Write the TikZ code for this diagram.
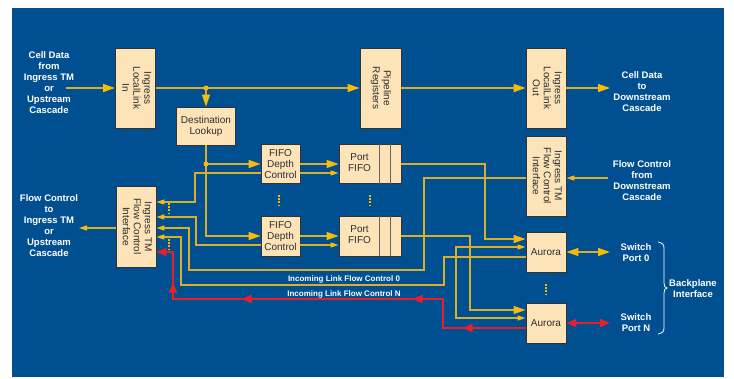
\documentclass[tikz,border=0pt]{standalone}
\usepackage{fontspec}
\setmainfont{Liberation Sans}
\usetikzlibrary{arrows.meta,decorations.markings,calc}
\definecolor{bgblue}{RGB}{0,80,145}
\definecolor{boxfill}{RGB}{253,227,184}
\definecolor{boxtext}{RGB}{45,45,45}
\definecolor{lgold}{RGB}{216,174,42}
\definecolor{ayel}{RGB}{250,186,10}
\definecolor{lred}{RGB}{232,30,40}
\newcommand{\rottxt}[1]{\rotatebox{-90}{\begin{tabular}{@{}c@{}}#1\end{tabular}}}
\tikzset{
  bigA/.tip={Triangle[length=12pt,width=8pt,color=ayel]},
  smA/.tip={Triangle[length=8pt,width=5pt,color=ayel]},
  redA/.tip={Triangle[length=10pt,width=8pt,color=lred]},
}
\begin{document}
\begin{tikzpicture}[x=1pt,y=-1pt,
  blk/.style={draw=black!80, line width=0.9pt, fill=boxfill, text=boxtext,
    font=\fontsize{10}{11}\selectfont, align=center, inner sep=0pt},
  lbl/.style={text=white, font=\bfseries\fontsize{9.5}{11}\selectfont, align=center, inner sep=0pt},
  sml/.style={text=white, font=\bfseries\fontsize{8}{9}\selectfont, inner sep=0pt},
  ln/.style={draw=lgold, line width=1.4pt},
  rl/.style={draw=lred, line width=2.4pt},
  vdots/.style={draw=ayel, line width=1.6pt, dash pattern=on 1.6pt off 1.6pt},
  sep/.style={draw=black!60, line width=0.9pt}]
\useasboundingbox (0,0) rectangle (734,378);
\fill[bgblue] (12,8) rectangle (724,377);

% blocks
\node[blk, minimum width=40, minimum height=80] (inL) at (135.5,88) {\rottxt{Ingress\\LocalLink\\In}};
\node[blk, minimum width=59, minimum height=38] (dest) at (206,126) {Destination\\Lookup};
\node[blk, minimum width=41, minimum height=80] (pipe) at (380.5,88) {\rottxt{Pipeline\\Registers}};
\node[blk, minimum width=40, minimum height=80] (outL) at (546,88) {\rottxt{Ingress\\LocalLink\\Out}};
\node[blk, minimum width=40, minimum height=80] (fcR) at (546,176) {\rottxt{Ingress TM\\Flow Control\\Interface}};
\node[blk, minimum width=40, minimum height=81] (fcL) at (136,226.5) {\rottxt{Ingress TM\\Flow Control\\Interface}};
\node[blk, minimum width=39, minimum height=39] (fdc1) at (280.5,164) {FIFO\\Depth\\Control};
\node[blk, minimum width=39, minimum height=40] (fdc2) at (280.5,236) {FIFO\\Depth\\Control};
\node[blk, minimum width=62, minimum height=39] (pf1) at (370,164) {\begin{tabular}{@{}c@{}}Port\\FIFO\end{tabular}\hspace*{21pt}};
\node[blk, minimum width=62, minimum height=40] (pf2) at (370,236) {\begin{tabular}{@{}c@{}}Port\\FIFO\end{tabular}\hspace*{21pt}};
\node[blk, minimum width=40, minimum height=40] (au1) at (546,252) {Aurora};
\node[blk, minimum width=40, minimum height=40] (au2) at (546,323) {Aurora};
\foreach \p in {pf1,pf2}{
  \draw[sep] ($(\p.north west)+(41,0)$) -- ($(\p.south west)+(41,0)$);
  \draw[sep] ($(\p.north west)+(52,0)$) -- ($(\p.south west)+(52,0)$);
}

% data path
\coordinate (inSrc) at (66,88);
\coordinate (outDst) at (610,88);
\draw[ln,-bigA] (inSrc) -- (inL.west);
\draw[ln,-bigA] (inL.east) -- (pipe.west);
\coordinate (j1) at (dest.north |- inL.east);
\draw[ln,-bigA] (j1) -- (dest.north);
\draw[ln,-bigA] (pipe.east) -- (outL.west);
\draw[ln,-bigA] (outL.east) -- (outDst);

\coordinate (j2) at (dest.south |- fdc1.west);
\draw[ln,-bigA] (j2) -- (fdc1.west);
\draw[ln,-bigA] (dest.south) |- (fdc2.west);
\draw[ln,-bigA] (fdc1.east) -- (pf1.west);
\draw[ln,-bigA] (fdc2.east) -- (pf2.west);
\draw[ln,-smA] (fdc1.east |- 0,173) -- (pf1.west |- 0,173);
\draw[ln,-smA] (fdc2.east |- 0,245) -- (pf2.west |- 0,245);
\draw[ln,-smA] (fdc1.west |- 0,173) -| (195,202) -- (fcL.east |- 0,202);
\draw[ln,-smA] (fdc2.west |- 0,245) -| (196,217) -- (fcL.east |- 0,217);

\draw[ln,-bigA] (pf1.east) -| (485,239) -- (au1.west |- 0,239);
\draw[ln,-bigA] (pf2.east) -| (470,310) -- (au2.west |- 0,310);
\draw[ln,smA-smA] (au1.west |- 0,247) -| (456,318) -- (au2.west |- 0,318);
\draw[ln,-smA] (au1.west |- 0,257) -| (444,285) -| (181,237) -- (fcL.east |- 0,237);
\draw[ln,-smA] (fcR.west |- 0,178) -| (424,270) -| (189,228) -- (fcL.east |- 0,228);
\coordinate (fcSrc) at (608,178);
\draw[ln,-smA] (fcSrc) -- (fcR.east |- 0,178);
\coordinate (fcDst) at (79,228);
\draw[ln,-smA] (fcL.west |- 0,228) -- (fcDst);
\coordinate (sp0) at (610,252);
\draw[ln,bigA-bigA] (au1.east) -- (sp0);

\fill[ayel] (j1) circle (2.5);
\fill[ayel] (j2) circle (2.5);

% red path
\coordinate (spN) at (610,323);
\draw[rl,redA-redA] (au2.east) -- (spN);
\draw[rl,-redA, postaction={decorate}, decoration={markings,
    mark=at position 63pt with {\arrow{redA}},
    mark=at position 142pt with {\arrow{redA}},
    mark=at position 313pt with {\arrow{redA}},
    mark=at position 398pt with {\arrow{redA}}}]
  (au2.west |- 0,328) -| (443,299) -| (173,252) -- (fcL.east |- 0,252);

% ellipses
\draw[vdots] (169,203) -- (169,215);
\draw[vdots] (169,239) -- (169,249);
\draw[vdots] (279,195) -- (279,205);
\draw[vdots] (370,195) -- (370,205);
\draw[vdots] (546,284) -- (546,294);

% brace
\draw[white, line width=0.8pt]
  (658,242) .. controls (662,243) and (664,244) .. (664,248) -- (664,283)
  .. controls (664,286) and (665,288) .. (667,288)
  .. controls (665,288) and (664,290) .. (664,293) -- (664,328)
  .. controls (664,332) and (662,333) .. (658,334);

% labels
\node[lbl] (tIn) at (49,83) {Cell Data\\from\\Ingress TM\\or\\Upstream\\Cascade};
\node[lbl] (tOut) at (642,91.5) {Cell Data\\to\\Downstream\\Cascade};
\node[lbl] (tFcIn) at (642,180.5) {Flow Control\\from\\Downstream\\Cascade};
\node[lbl] (tFcOut) at (49,226) {Flow Control\\to\\Ingress TM\\or\\Upstream\\Cascade};
\node[lbl] (tSp0) at (636,252.5) {Switch\\Port 0};
\node[lbl] (tSpN) at (636,322.5) {Switch\\Port N};
\node[lbl] (tBp) at (693,288.5) {Backplane\\Interface};
\node[sml] (tL0) at (344,279.5) {Incoming Link Flow Control 0};
\node[sml] (tLN) at (344,294) {Incoming Link Flow Control N};
\end{tikzpicture}
\end{document}
